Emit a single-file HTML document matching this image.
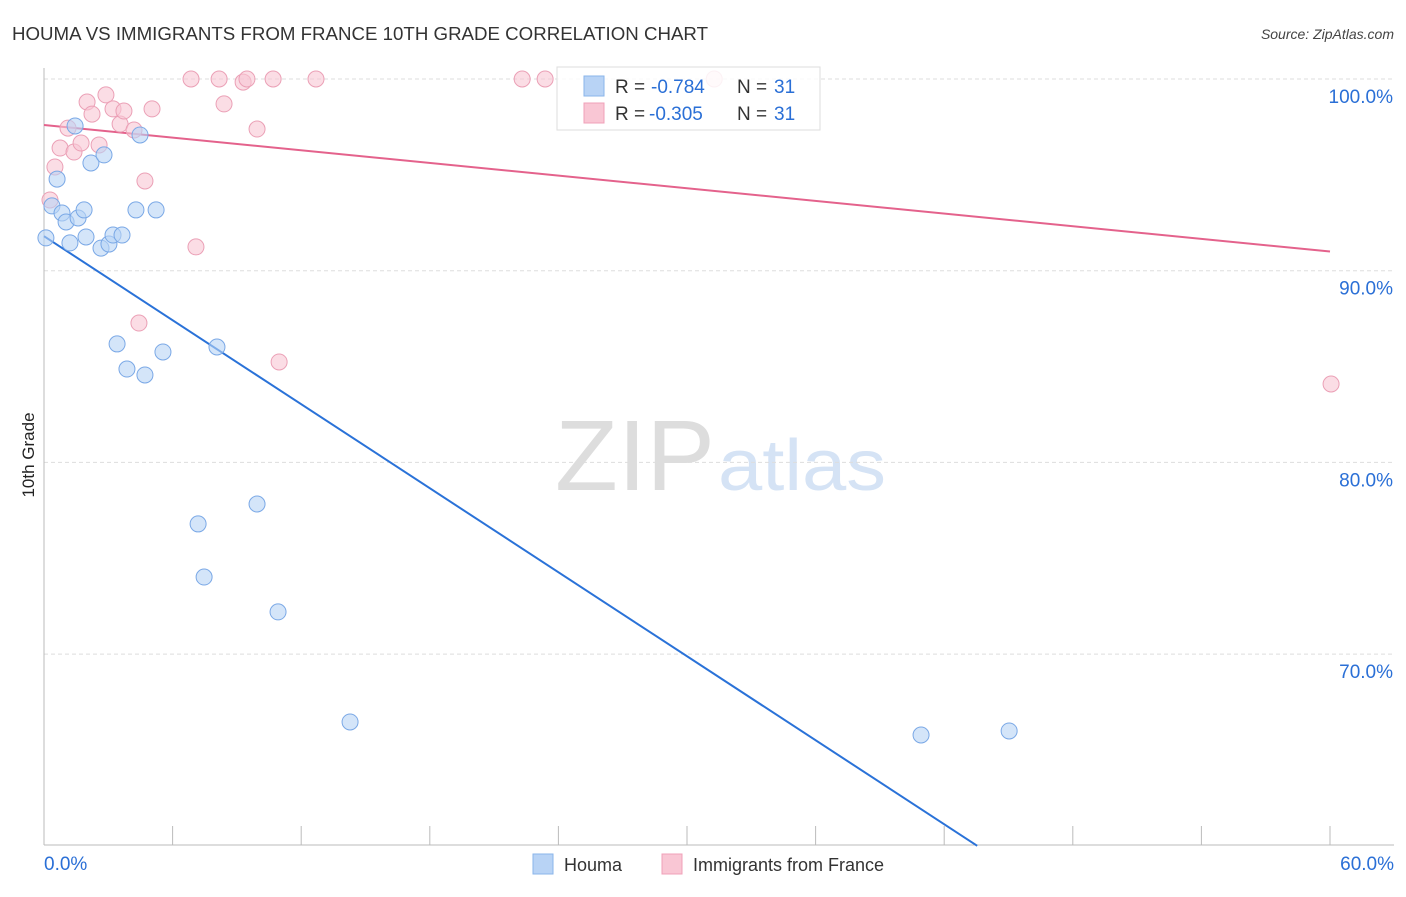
<!DOCTYPE html>
<html><head><meta charset="utf-8"><style>
body{margin:0;background:#fff;font-family:"Liberation Sans",sans-serif;}
svg text{font-family:"Liberation Sans",sans-serif;}
</style></head><body>
<svg id="chart" width="1406" height="892" xmlns="http://www.w3.org/2000/svg">
<text x="12" y="40" font-size="18" fill="#333" textLength="696" lengthAdjust="spacingAndGlyphs">HOUMA VS IMMIGRANTS FROM FRANCE 10TH GRADE CORRELATION CHART</text>
<text x="1394" y="39" font-size="14" fill="#444" text-anchor="end" font-style="italic">Source: ZipAtlas.com</text>
<text x="34" y="455" font-size="17" fill="#222" text-anchor="middle" transform="rotate(-90 34 455)">10th Grade</text>
<g>
<text x="555" y="490" font-size="100" fill="#ddd" font-family="Liberation Serif" textLength="160" lengthAdjust="spacingAndGlyphs">ZIP</text>
<text x="718" y="490" font-size="72" fill="#d5e3f5" textLength="168" lengthAdjust="spacingAndGlyphs">atlas</text>
</g>
<g id="grid"></g><g id="axes"></g><g id="lines"></g><g id="points"></g>
<g>
<rect x="557" y="67" width="263" height="63" fill="#fff" fill-opacity="0.85" stroke="#ddd"/>
<rect x="584" y="76" width="20" height="20" fill="#b8d3f5" stroke="#8ab4ea"/>
<rect x="584" y="103" width="20" height="20" fill="#f9c6d4" stroke="#f0a0b8"/>
<text x="615" y="93" font-size="19" fill="#333">R =</text>
<text x="651" y="93" font-size="19" fill="#2a6fd6">-0.784</text>
<text x="737" y="93" font-size="19" fill="#333">N =</text>
<text x="774" y="93" font-size="19" fill="#2a6fd6">31</text>
<text x="615" y="120" font-size="19" fill="#333">R =</text>
<text x="649" y="120" font-size="19" fill="#2a6fd6">-0.305</text>
<text x="737" y="120" font-size="19" fill="#333">N =</text>
<text x="774" y="120" font-size="19" fill="#2a6fd6">31</text>
</g>
<g>
<rect x="533" y="854" width="20" height="20" fill="#b8d3f5" stroke="#8ab4ea"/>
<text x="564" y="871" font-size="18" fill="#333">Houma</text>
<rect x="662" y="854" width="20" height="20" fill="#f9c6d4" stroke="#f0a0b8"/>
<text x="693" y="871" font-size="18" fill="#333">Immigrants from France</text>
</g>
</svg>
<script>
const blueX=[0.09,0.37,0.61,0.84,1.03,1.21,1.45,1.59,1.87,1.96,2.19,2.66,2.80,3.03,3.22,3.64,4.48,4.29,5.23,3.41,3.87,4.71,5.55,8.07,7.19,7.47,9.94,10.92,14.28,40.92,45.03];
const blueY=[91.71,93.38,94.78,93.01,92.54,91.45,97.55,92.75,93.17,91.76,95.62,91.18,96.04,91.39,91.86,91.86,97.08,93.17,93.17,86.18,84.87,84.56,85.76,86.02,76.79,74.02,77.83,72.20,66.46,65.78,65.99];
const pinkX=[0.28,0.51,0.75,1.12,1.40,1.73,2.01,2.24,2.57,2.89,3.22,3.55,3.73,4.20,5.04,4.71,4.43,7.09,6.86,8.17,8.40,9.29,9.47,9.94,10.69,10.97,12.69,22.31,23.38,31.27,60.05];
const pinkY=[93.69,95.41,96.40,97.44,96.19,96.66,98.80,98.17,96.56,99.17,98.44,97.65,98.33,97.34,98.44,94.68,87.27,91.24,100,100,98.70,99.84,100,97.39,100,85.24,100,100,100,100,84.09];
const blueTrend=[[0,91.8],[43.54,60]];
const pinkTrend=[[0,97.6],[60,91.0]];
const yTicks=[100,90,80,70];
const xTickVals=[0,6,12,18,24,30,36,42,48,54,60];
const NS="http://www.w3.org/2000/svg";
const sx=v=>44+v/60*1286;
const sy=v=>79+(100-v)*19.17;
function mk(t,a,p){const e=document.createElementNS(NS,t);for(const k in a)e.setAttribute(k,a[k]);document.getElementById(p).appendChild(e);return e;}
yTicks.forEach(v=>{
 const l=mk('line',{x1:44,x2:1394,y1:sy(v),y2:sy(v),stroke:'#ddd','stroke-dasharray':'4,3'},'grid');
 
 
 const t=mk('text',{x:1393,y:sy(v)+24,'font-size':19,fill:'#2a6fd6','text-anchor':'end'},'grid');
 t.textContent=v.toFixed(1)+'%';
 
 
});
const ax=mk('line',{x1:44,x2:44,y1:68,y2:845,stroke:'#bbb'},'axes');


const bx=mk('line',{x1:44,x2:1394,y1:845,y2:845,stroke:'#bbb'},'axes');


xTickVals.forEach(v=>{const l=mk('line',{x1:sx(v),x2:sx(v),y1:826,y2:845,stroke:'#bbb'},'axes');
 
 });
[[0,'start',44],[60,'end',1394]].forEach(([v,a,x])=>{const t=mk('text',{x:x,y:870,'font-size':19,fill:'#2a6fd6','text-anchor':a},'axes');t.textContent=v.toFixed(1)+'%';
 
 });
function pts(X,Y,fill,stroke,name){X.forEach((x,i)=>{const c=mk('circle',{cx:sx(x),cy:sy(Y[i]),r:8,fill:fill,'fill-opacity':0.6,stroke:stroke,'stroke-width':1},'points');
 
 });}
pts(pinkX,pinkY,'#f9c6d4','#eba0b6','france-point');
pts(blueX,blueY,'#b8d3f5','#7aa8e6','houma-point');
const bl=mk('line',{x1:sx(blueTrend[0][0]),y1:sy(blueTrend[0][1]),x2:sx(blueTrend[1][0]),y2:sy(blueTrend[1][1]),stroke:'#2a72d8','stroke-width':2},'lines');


const pl=mk('line',{x1:sx(pinkTrend[0][0]),y1:sy(pinkTrend[0][1]),x2:sx(pinkTrend[1][0]),y2:sy(pinkTrend[1][1]),stroke:'#e4628c','stroke-width':2},'lines');


</script>
</body></html>
